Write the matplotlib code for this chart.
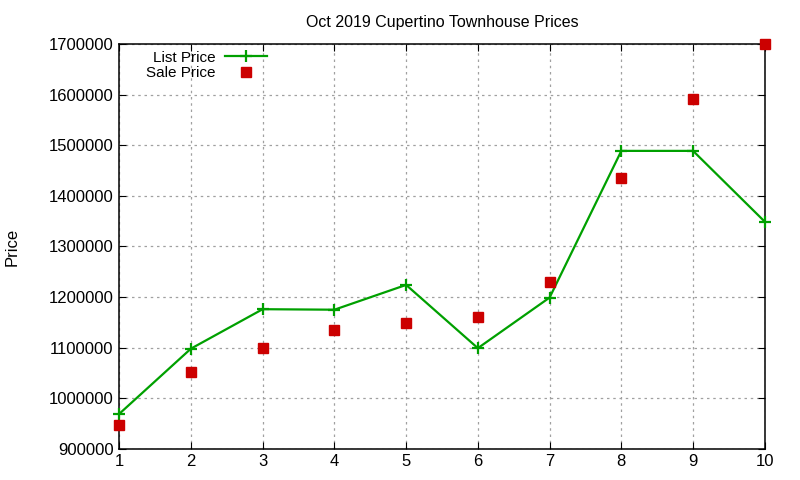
import matplotlib
matplotlib.use("Agg")
import matplotlib.pyplot as plt
from matplotlib.ticker import FuncFormatter

plt.rcParams['font.family'] = ['Liberation Sans', 'DejaVu Sans']

# data
listing = [1, 2, 3, 4, 5, 6, 7, 8, 9, 10]
list_price = [969000, 1098000, 1176000, 1175000, 1224000, 1099000, 1199000, 1489000, 1489000, 1349000]
sale_price = [948000, 1052000, 1100000, 1135000, 1149000, 1160000, 1230000, 1435000, 1591000, 1700000]
y_ticks = [900000, 1000000, 1100000, 1200000, 1300000, 1400000, 1500000, 1600000, 1700000]

fig = plt.figure(figsize=(8, 4.8), dpi=100)
ax = fig.add_axes([0.149, 0.065, 0.807, 0.843])

ax.plot(listing, list_price, color='#00a000', linewidth=1.6, marker='+',
        markersize=8, markeredgewidth=1.6, label='List Price', clip_on=False, zorder=3)
ax.plot(listing, sale_price, linestyle='none', marker='s', color='#cc0000',
        markersize=6.5, label='Sale Price', clip_on=False, zorder=4)

ax.set_xlim(1, 10)
ax.set_ylim(900000, 1700000)
ax.set_xticks(listing)
ax.set_yticks(y_ticks)
ax.yaxis.set_major_formatter(FuncFormatter(lambda v, p: '%d' % v))

ax.grid(True, color='#a0a0a0', linestyle=(0, (2, 3)), linewidth=0.9)
ax.tick_params(direction='in', length=5, top=True, right=True, labelsize=12, pad=4)
for s in ax.spines.values():
    s.set_linewidth(1.1)

ax.set_title('Oct 2019 Cupertino Townhouse Prices', fontsize=11.5, pad=12)
ax.set_ylabel('Price', fontsize=12, labelpad=21)

ax.legend(loc='upper left', frameon=False, markerfirst=False, fontsize=11,
          bbox_to_anchor=(0.025, 1.01), handlelength=2.75, handletextpad=0.65,
          labelspacing=0.1, borderaxespad=0.3)

fig.savefig('out.png', dpi=100)
